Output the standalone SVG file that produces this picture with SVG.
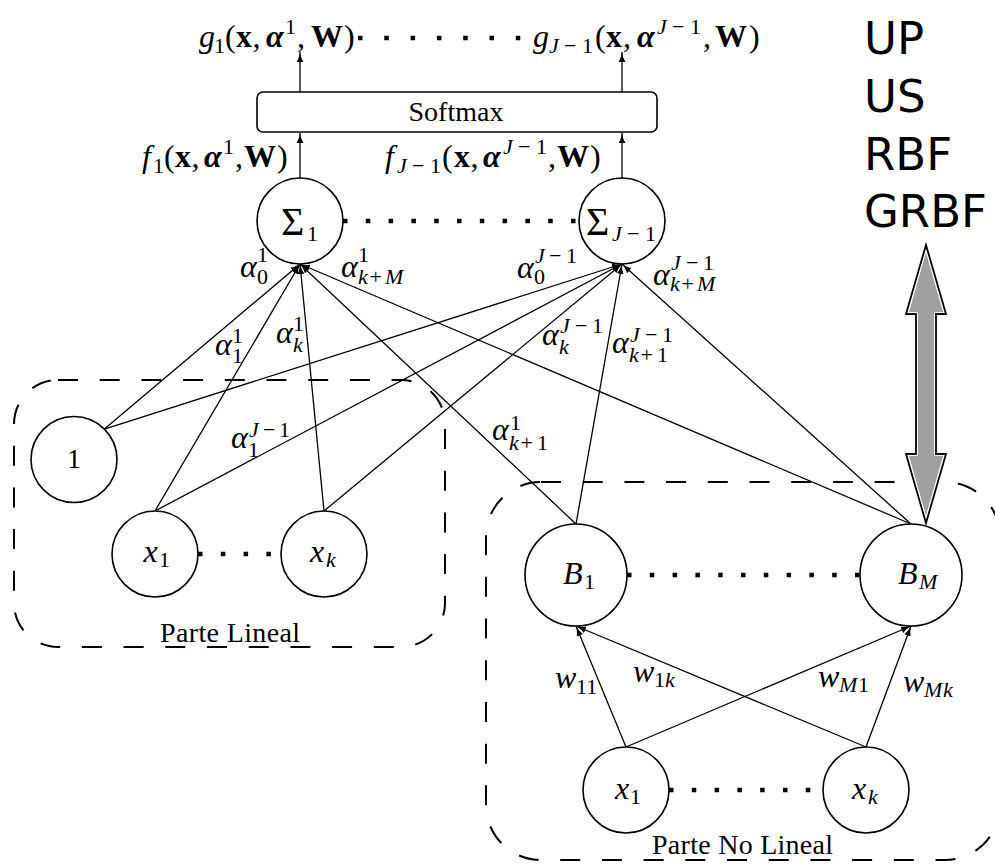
<svg xmlns="http://www.w3.org/2000/svg" width="995" height="864" viewBox="0 0 995 864">
<defs>
<style>
.n{fill:#fff;stroke:#000;stroke-width:1.6}
.e{stroke:#000;stroke-width:1.3;fill:none;marker-end:url(#ah)}
.dot{stroke:#000;stroke-width:4.5;stroke-dasharray:4.5 18.3;fill:none}
.box{fill:none;stroke:#000;stroke-width:2;stroke-dasharray:20 21.7}
.m{font-family:"Liberation Serif",serif;font-size:32px;fill:#000}
.t{font-family:"Liberation Serif",serif;font-size:28px;fill:#000}
.i{font-style:italic}
.b{font-weight:bold}
.bi{font-weight:bold;font-style:italic}
.s{font-size:22px}
.sg{font-size:40px}
.sf{font-family:"DejaVu Sans",sans-serif;font-size:45px;fill:#000}
</style>
<marker id="ah" markerUnits="userSpaceOnUse" viewBox="0 0 10 7" refX="10" refY="3.5" markerWidth="10" markerHeight="7" orient="auto"><path d="M0,0 C3,2 7,3.2 10,3.5 C7,3.8 3,5 0,7 Z" fill="#000"/></marker>
</defs>
<rect x="0" y="0" width="995" height="864" fill="#fff"/>

<g id="parte-lineal">
<rect class="box" x="14" y="380" width="431" height="267" rx="44"/>
<text class="t" x="160" y="642" textLength="140">Parte Lineal</text>
</g>
<g id="parte-no-lineal">
<rect class="box" x="486" y="482" width="514" height="378" rx="55"/>
<text class="t" x="652" y="854" textLength="181">Parte No Lineal</text>
</g>

<g id="connectors">
<line class="e" x1="104.4" y1="429.1" x2="300" y2="264"/>
<line class="e" x1="155" y1="511" x2="300" y2="264"/>
<line class="e" x1="324" y1="511" x2="300" y2="264"/>
<line class="e" x1="576" y1="524" x2="300" y2="264"/>
<line class="e" x1="911" y1="524" x2="300" y2="264"/>
<line class="e" x1="104.4" y1="429.1" x2="622" y2="264"/>
<line class="e" x1="155" y1="511" x2="622" y2="264"/>
<line class="e" x1="324" y1="511" x2="622" y2="264"/>
<line class="e" x1="576" y1="524" x2="622" y2="264"/>
<line class="e" x1="911" y1="524" x2="622" y2="264"/>
<line class="e" x1="626" y1="747" x2="576" y2="626"/>
<line class="e" x1="626" y1="747" x2="911" y2="626"/>
<line class="e" x1="866" y1="747" x2="576" y2="626"/>
<line class="e" x1="866" y1="747" x2="911" y2="626"/>
<line class="e" x1="300" y1="178" x2="300" y2="133"/>
<line class="e" x1="622" y1="178" x2="622" y2="133"/>
<line class="e" x1="300" y1="92" x2="300" y2="52"/>
<line class="e" x1="622" y1="92" x2="622" y2="52"/>
<line class="dot" x1="358" y1="38" x2="524" y2="38" style="stroke-dasharray:4.5 21.8"/>
<line class="dot" x1="343" y1="221" x2="579" y2="221"/>
<line class="dot" x1="198" y1="554" x2="281" y2="554"/>
<line class="dot" x1="627" y1="575" x2="860" y2="575"/>
<line class="dot" x1="669" y1="790" x2="823" y2="790"/>
</g>

<g id="edge-labels" class="m">
<text><tspan class="i" x="240" y="277">α</tspan><tspan class="s" x="257" y="262">1</tspan><tspan class="s" x="257" y="284">0</tspan></text>
<text><tspan class="i" x="341" y="277">α</tspan><tspan class="s" x="358" y="262">1</tspan><tspan class="s i" x="358" y="284">k</tspan><tspan class="s" x="369.5">+</tspan><tspan class="s i" x="385">M</tspan></text>
<text><tspan class="i" x="276" y="343">α</tspan><tspan class="s" x="293" y="331">1</tspan><tspan class="s i" x="293" y="352">k</tspan></text>
<text><tspan class="i" x="215" y="355">α</tspan><tspan class="s" x="232" y="343">1</tspan><tspan class="s" x="232" y="363">1</tspan></text>
<text><tspan class="i" x="231" y="448">α</tspan><tspan class="s i" x="249" y="437">J</tspan><tspan class="s" x="263">−</tspan><tspan class="s" x="279">1</tspan><tspan class="s" x="248" y="457">1</tspan></text>
<text><tspan class="i" x="517" y="278">α</tspan><tspan class="s i" x="535" y="263">J</tspan><tspan class="s" x="549">−</tspan><tspan class="s" x="566">1</tspan><tspan class="s" x="534" y="284">0</tspan></text>
<text><tspan class="i" x="653" y="285">α</tspan><tspan class="s i" x="671" y="270">J</tspan><tspan class="s" x="686">−</tspan><tspan class="s" x="703">1</tspan><tspan class="s i" x="670" y="291">k</tspan><tspan class="s" x="681.5">+</tspan><tspan class="s i" x="697">M</tspan></text>
<text><tspan class="i" x="542" y="345">α</tspan><tspan class="s i" x="560" y="333">J</tspan><tspan class="s" x="575">−</tspan><tspan class="s" x="592">1</tspan><tspan class="s i" x="559" y="354">k</tspan></text>
<text><tspan class="i" x="612" y="353">α</tspan><tspan class="s i" x="630" y="342">J</tspan><tspan class="s" x="645">−</tspan><tspan class="s" x="662">1</tspan><tspan class="s i" x="629" y="362">k</tspan><tspan class="s" x="640.5">+</tspan><tspan class="s" x="657">1</tspan></text>
<text><tspan class="i" x="492" y="440">α</tspan><tspan class="s" x="510" y="430">1</tspan><tspan class="s i" x="509" y="450">k</tspan><tspan class="s" x="520.5">+</tspan><tspan class="s" x="537">1</tspan></text>
<text><tspan class="i" x="555" y="688">w</tspan><tspan class="s" x="576" y="694">11</tspan></text>
<text><tspan class="i" x="633" y="682">w</tspan><tspan class="s" x="654" y="687">1</tspan><tspan class="s i" x="665">k</tspan></text>
<text><tspan class="i" x="818" y="687">w</tspan><tspan class="s i" x="839" y="692">M</tspan><tspan class="s" x="858">1</tspan></text>
<text><tspan class="i" x="903" y="692">w</tspan><tspan class="s i" x="924" y="697">M</tspan><tspan class="s i" x="943">k</tspan></text>
<text><tspan class="i" x="142" y="167">f</tspan><tspan class="s" x="153" y="173">1</tspan><tspan x="164" y="167">(</tspan><tspan class="b" x="175">x</tspan><tspan x="191.5">,</tspan><tspan class="bi" x="204">α</tspan><tspan class="s" x="223" y="154">1</tspan><tspan x="235" y="167">,</tspan><tspan class="b" x="244">W</tspan><tspan x="277">)</tspan></text>
<text><tspan class="i" x="385" y="167">f</tspan><tspan class="s i" x="397" y="173">J</tspan><tspan class="s" x="412">−</tspan><tspan class="s" x="430">1</tspan><tspan x="442" y="167">(</tspan><tspan class="b" x="454">x</tspan><tspan x="470.5">,</tspan><tspan class="bi" x="483">α</tspan><tspan class="s i" x="503" y="154">J</tspan><tspan class="s" x="518">−</tspan><tspan class="s" x="536">1</tspan><tspan x="548" y="167">,</tspan><tspan class="b" x="557">W</tspan><tspan x="590">)</tspan></text>
<text><tspan class="i" x="199" y="47">g</tspan><tspan class="s" x="214" y="53">1</tspan><tspan x="225" y="47">(</tspan><tspan class="b" x="236">x</tspan><tspan x="252.5">,</tspan><tspan class="bi" x="266">α</tspan><tspan class="s" x="285" y="34">1</tspan><tspan x="297" y="47">,</tspan><tspan class="b" x="311">W</tspan><tspan x="344">)</tspan></text>
<text><tspan class="i" x="533" y="47">g</tspan><tspan class="s i" x="549" y="53">J</tspan><tspan class="s" x="564">−</tspan><tspan class="s" x="582">1</tspan><tspan x="595" y="47">(</tspan><tspan class="b" x="606">x</tspan><tspan x="623">,</tspan><tspan class="bi" x="637">α</tspan><tspan class="s i" x="657" y="34">J</tspan><tspan class="s" x="672">−</tspan><tspan class="s" x="690">1</tspan><tspan x="703" y="47">,</tspan><tspan class="b" x="715">W</tspan><tspan x="749">)</tspan></text>
</g>

<g id="softmax">
<rect x="257" y="92" width="400" height="40" rx="6" fill="#fff" stroke="#000" stroke-width="1.6"/>
<text class="t" x="456" y="121" text-anchor="middle">Softmax</text>
</g>
<g id="sigma-1">
<circle class="n" cx="300" cy="221" r="43"/>
<text class="m"><tspan class="sg" x="281" y="235">Σ</tspan><tspan class="s" x="307" y="241">1</tspan></text>
</g>
<g id="sigma-J-1">
<circle class="n" cx="622" cy="221" r="43"/>
<text class="m"><tspan class="sg" x="586" y="235">Σ</tspan><tspan class="s i" x="612" y="241">J</tspan><tspan class="s" x="627">−</tspan><tspan class="s" x="645">1</tspan></text>
</g>
<g id="node-1">
<circle class="n" cx="74" cy="459.5" r="43"/>
<text class="m" x="74" y="468" text-anchor="middle" style="font-size:28px">1</text>
</g>
<g id="node-x1">
<circle class="n" cx="155" cy="554" r="43"/>
<text class="m"><tspan class="i" x="143.5" y="562">x</tspan><tspan class="s" x="159" y="567">1</tspan></text>
</g>
<g id="node-xk">
<circle class="n" cx="324" cy="554" r="43"/>
<text class="m"><tspan class="i" x="310" y="562">x</tspan><tspan class="s i" x="326" y="567">k</tspan></text>
</g>
<g id="node-B1">
<circle class="n" cx="576" cy="575" r="51"/>
<text class="m"><tspan class="i" x="563" y="584">B</tspan><tspan class="s" x="584" y="589">1</tspan></text>
</g>
<g id="node-BM">
<circle class="n" cx="911" cy="575" r="51"/>
<text class="m"><tspan class="i" x="898" y="584">B</tspan><tspan class="s i" x="919" y="589">M</tspan></text>
</g>
<g id="node-x1-nl">
<circle class="n" cx="626" cy="790" r="43"/>
<text class="m"><tspan class="i" x="615" y="799">x</tspan><tspan class="s" x="630" y="804">1</tspan></text>
</g>
<g id="node-xk-nl">
<circle class="n" cx="866" cy="790" r="43"/>
<text class="m"><tspan class="i" x="852" y="799">x</tspan><tspan class="s i" x="868" y="804">k</tspan></text>
</g>

<g id="basis-types">
<text class="sf" x="864" y="54">UP</text>
<text class="sf" x="864" y="112">US</text>
<text class="sf" x="864" y="169.5">RBF</text>
<text class="sf" x="864" y="226.5">GRBF</text>
</g>
<g id="double-arrow">
<polygon points="926,245 946,314 936,314 936,454 946,454 926,523 906,454 916,454 916,314 906,314" fill="#fff" stroke="#000" stroke-width="1.8" stroke-linejoin="miter"/>
<polygon points="926,252.5 943,312 934,312 934,456 943,456 926,515.5 909,456 918,456 918,312 909,312" fill="#a0a0a0"/>
</g>
</svg>
